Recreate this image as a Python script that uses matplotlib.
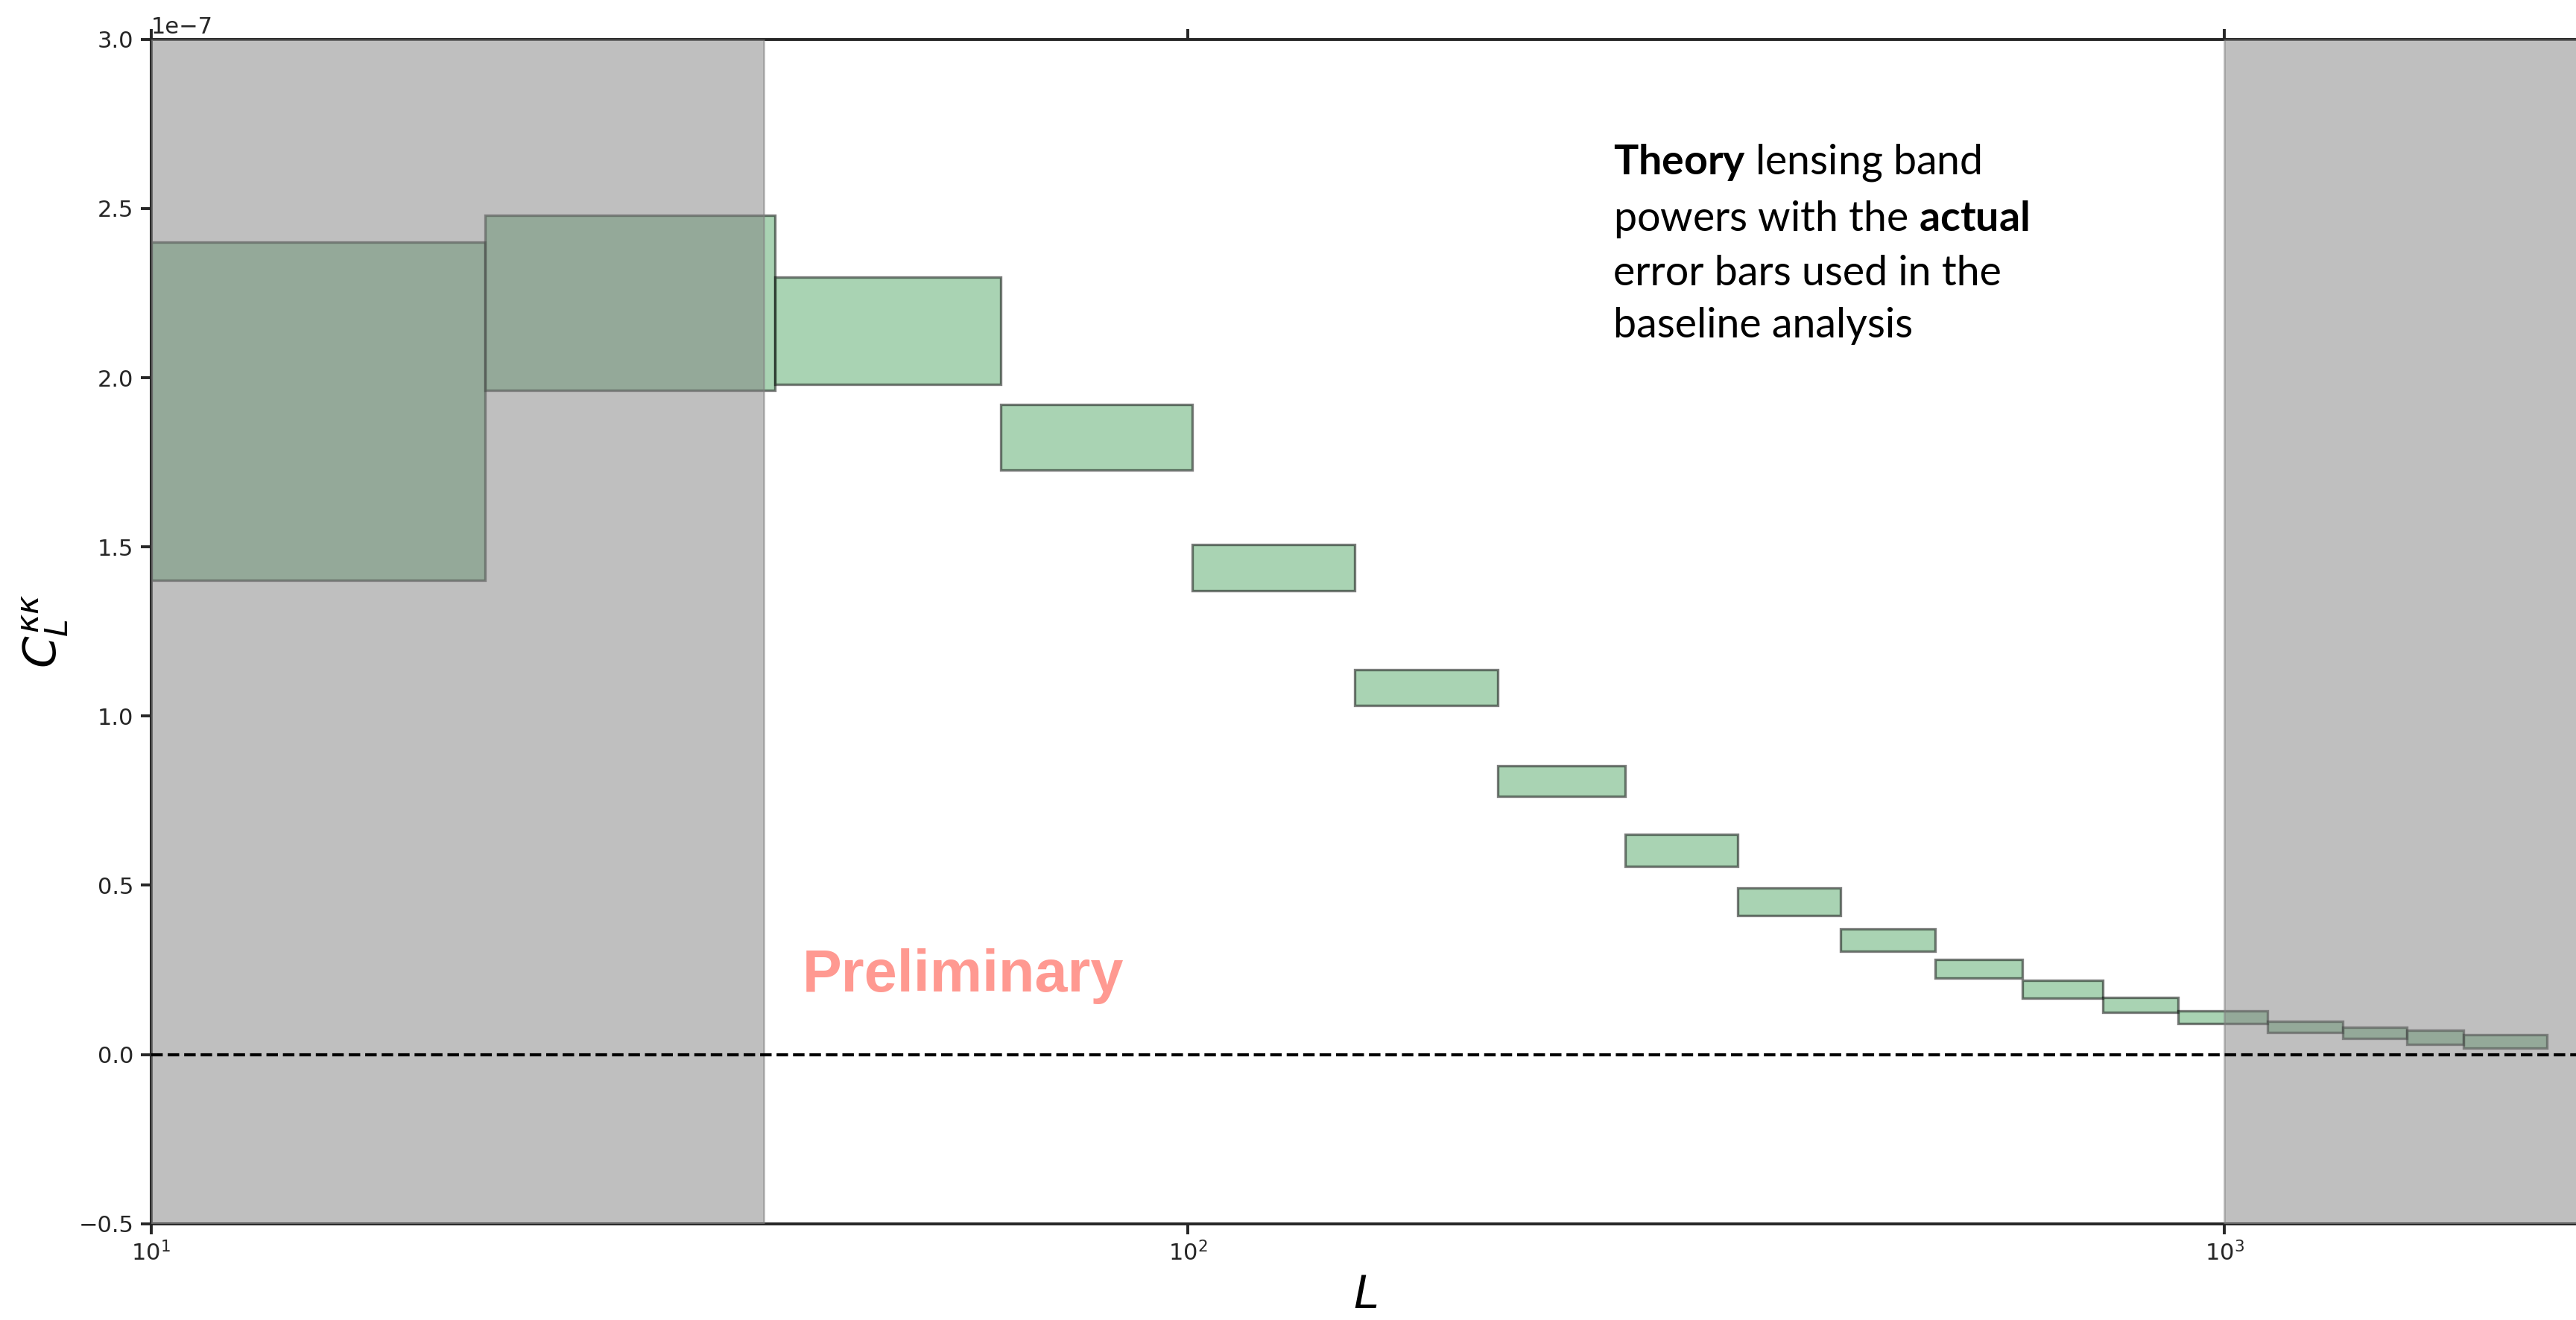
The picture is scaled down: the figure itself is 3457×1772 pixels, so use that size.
import numpy as np
import matplotlib
matplotlib.use("Agg")
import matplotlib.pyplot as plt
from matplotlib.ticker import NullLocator

# bin edges in L and theory band powers (units of 1e-7) with their errors
bin_edges = [10, 21, 40, 66, 101, 145, 199, 264, 339, 426, 526, 638, 763, 902, 1100, 1300, 1500, 1700, 2048]
band_power = [1.901, 2.221, 2.139, 1.824, 1.438, 1.085, 0.808, 0.604, 0.452, 0.338,
              0.253, 0.192, 0.146, 0.110, 0.082, 0.064, 0.051, 0.039]
band_error = [0.500, 0.259, 0.158, 0.097, 0.068, 0.053, 0.046, 0.047, 0.041, 0.032,
              0.028, 0.026, 0.022, 0.018, 0.017, 0.017, 0.021, 0.020]
scale = 1e-7
excluded_low = (10, 39)
excluded_high = (1000, 2200)

plt.rcParams['mathtext.fontset'] = 'custom'
plt.rcParams['mathtext.rm'] = 'DejaVu Sans'
plt.rcParams['mathtext.it'] = 'DejaVu Sans:italic'
plt.rcParams['mathtext.bf'] = 'Lato:bold'
plt.rcParams['axes.edgecolor'] = '#262626'
plt.rcParams['xtick.color'] = '#262626'
plt.rcParams['ytick.color'] = '#262626'

def main():
    edges = np.array(bin_edges, dtype=float)
    bp = np.array(band_power) * scale
    err = np.array(band_error) * scale

    fig = plt.figure(figsize=(17.285, 8.86), dpi=200)
    ax = fig.add_axes([0.05866, 0.07302, 0.94267, 0.89713])

    ax.bar(edges[:-1], 2 * err, width=np.diff(edges), bottom=bp - err, align='edge',
           color='#55a868', edgecolor='k', linewidth=1.2, alpha=0.5, zorder=2)

    ax.axvspan(*excluded_low, color='grey', alpha=0.5, zorder=3)
    ax.axvspan(*excluded_high, color='grey', alpha=0.5, zorder=3)
    ax.axhline(0, color='k', ls='--', lw=1.5, zorder=4)

    ax.set_xscale('log')
    ax.set_xlim(10, 2200)
    ax.set_ylim(-0.5e-7, 3.0e-7)
    ax.xaxis.set_minor_locator(NullLocator())
    ax.tick_params(which='major', top=True, length=5, width=1.4, labelsize=11)
    ax.yaxis.get_offset_text().set_fontsize(11)
    for s in ax.spines.values():
        s.set_linewidth(1.4)

    ax.set_xlabel(r'$L$', fontsize=22)
    ax.set_ylabel(r'$C_L^{\kappa\kappa}$', fontsize=22)

    fig.text(0.6263, 0.892,
             "$\\mathbf{Theory}$ lensing band\npowers with the $\\mathbf{actual}$\n"
             "error bars used in the\nbaseline analysis",
             family='Lato', fontsize=20, ha='left', va='top', linespacing=1.48)

    ax.text(42.5, 0.185e-7, 'Preliminary', family='Liberation Sans', weight='bold',
            fontsize=28.5, color='#ff9991', zorder=5)

    fig.savefig('out.png', dpi=200)

if __name__ == '__main__':
    main()
